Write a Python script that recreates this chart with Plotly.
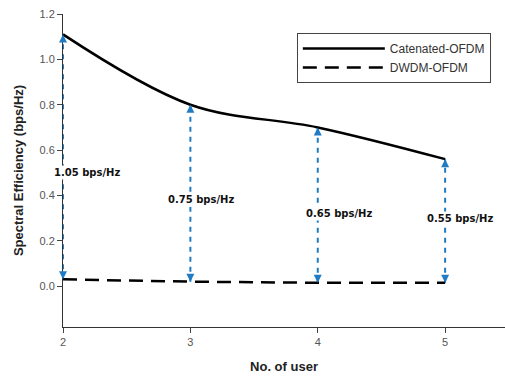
import plotly.graph_objects as go

users = [2, 3, 4, 5]
catenated = [1.11, 0.80, 0.70, 0.56]
dwdm = [0.03, 0.02, 0.015, 0.015]
gain_labels = ["1.05 bps/Hz", "0.75 bps/Hz", "0.65 bps/Hz", "0.55 bps/Hz"]
label_x = [2.19, 3.08, 4.17, 5.12]
label_y = [0.50, 0.38, 0.32, 0.30]
y_ticks = [0.0, 0.2, 0.4, 0.6, 0.8, 1.0, 1.2]
x_ticks = [2, 3, 4, 5]

BLUE = "#1f7bc4"

fig = go.Figure()
fig.add_trace(go.Scatter(x=users, y=catenated, mode="lines", name="Catenated-OFDM",
                         line=dict(color="black", width=2.5, shape="spline", smoothing=1.0)))
fig.add_trace(go.Scatter(x=users, y=dwdm, mode="lines", name="DWDM-OFDM",
                         line=dict(color="black", width=2.5, dash="14px,8px")))

shapes = []
annotations = []
for xi, lo, hi, txt, lx, ly in zip(users, dwdm, catenated, gain_labels, label_x, label_y):
    shapes.append(dict(type="line", xref="x", yref="y", x0=xi, x1=xi, y0=lo, y1=hi,
                       line=dict(color=BLUE, width=2, dash="5px,5px"), layer="below"))
    # arrow heads
    annotations.append(dict(x=xi, y=hi, xref="x", yref="y", ax=0, ay=7, text="",
                            showarrow=True, arrowhead=2, arrowsize=0.8, arrowwidth=2,
                            arrowcolor=BLUE))
    annotations.append(dict(x=xi, y=lo, xref="x", yref="y", ax=0, ay=-7, text="",
                            showarrow=True, arrowhead=2, arrowsize=0.8, arrowwidth=2,
                            arrowcolor=BLUE))
    annotations.append(dict(x=lx, y=ly, xref="x", yref="y", text="<b>" + txt + "</b>",
                            showarrow=False, bgcolor="white", borderpad=1,
                            font=dict(family="DejaVu Sans", size=10, color="#111"),
                            xanchor="center", yanchor="middle"))

fig.update_layout(
    width=505, height=379,
    margin=dict(l=63, r=0, t=14, b=52),
    paper_bgcolor="white", plot_bgcolor="white",
    shapes=shapes, annotations=annotations,
    showlegend=True,
    legend=dict(x=0.529, y=0.939, xanchor="left", yanchor="top",
                bordercolor="#444", borderwidth=1, bgcolor="white",
                font=dict(family="Liberation Sans", size=12, color="#333"),
                itemwidth=82, tracegroupgap=0),
    xaxis=dict(range=[2, 5.47], tickvals=x_ticks, ticks="outside", ticklen=5,
               showline=True, linecolor="#333", linewidth=1, showgrid=False, zeroline=False,
               tickfont=dict(family="Liberation Sans", size=11, color="#555"),
               title=dict(text="<b>No. of user</b>", standoff=14,
                          font=dict(family="Liberation Sans", size=13, color="#222"))),
    yaxis=dict(range=[-0.18, 1.2], tickvals=y_ticks, tickformat=".1f", ticks="outside",
               ticklen=5, showline=True, linecolor="#333", linewidth=1, showgrid=False,
               zeroline=False,
               tickfont=dict(family="Liberation Sans", size=11, color="#555"),
               title=dict(text="<b>Spectral Efficiency (bps/Hz)</b>", standoff=12,
                          font=dict(family="Liberation Sans", size=13, color="#222"))),
)

fig.write_html("out.html")
